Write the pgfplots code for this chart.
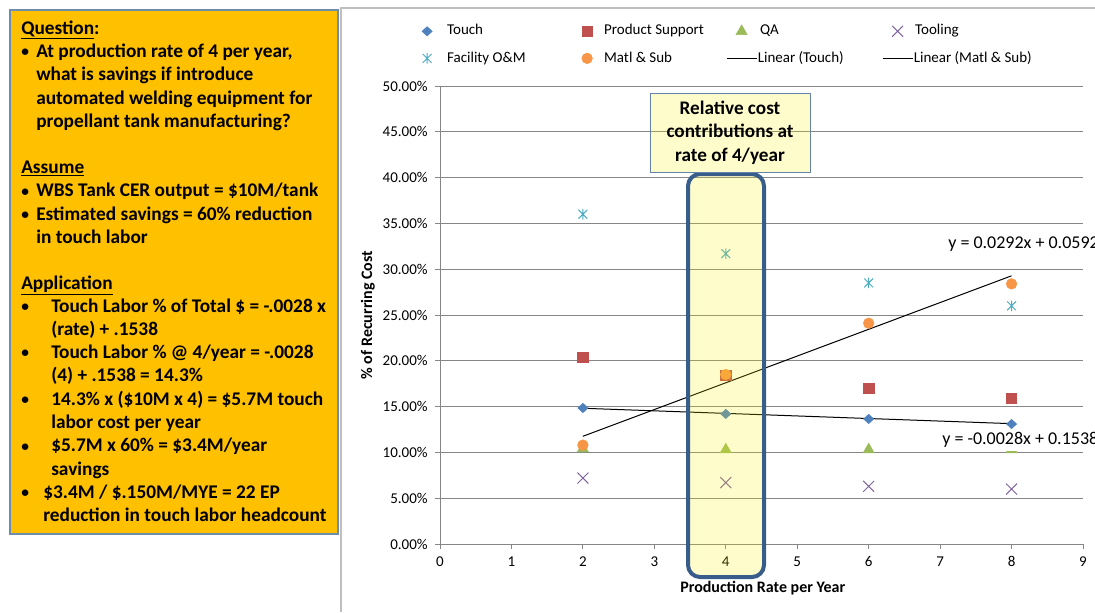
\documentclass[border=0pt]{standalone}
\usepackage{pgfplots}
\pgfplotsset{compat=1.18}
\usepackage{fontspec}
\setmainfont{Carlito}
\definecolor{boxorange}{RGB}{255,192,0}
\definecolor{boxborder}{RGB}{110,140,175}
\definecolor{gridgray}{RGB}{134,134,134}
\definecolor{framegray}{RGB}{191,191,191}
\definecolor{ctouch}{RGB}{79,129,189}
\definecolor{cps}{RGB}{192,80,77}
\definecolor{cqa}{RGB}{155,187,89}
\definecolor{ctool}{RGB}{128,100,162}
\definecolor{cfac}{RGB}{75,172,198}
\definecolor{cmatl}{RGB}{247,150,70}
\definecolor{hlborder}{RGB}{56,93,138}
\definecolor{annborder}{RGB}{100,130,170}
\newcommand{\bigfont}{\fontsize{14.5}{17.5}\selectfont\bfseries}
\newcommand{\chartfont}{\fontsize{11.25}{13.5}\selectfont}
\newcommand{\bul}{{\fontsize{11.5}{12}\selectfont\raisebox{0.5pt}{•}}}
\pgfdeclareplotmark{xstar}{%
  \pgfpathmoveto{\pgfqpoint{-\pgfplotmarksize}{-\pgfplotmarksize}}%
  \pgfpathlineto{\pgfqpoint{\pgfplotmarksize}{\pgfplotmarksize}}%
  \pgfpathmoveto{\pgfqpoint{-\pgfplotmarksize}{\pgfplotmarksize}}%
  \pgfpathlineto{\pgfqpoint{\pgfplotmarksize}{-\pgfplotmarksize}}%
  \pgfpathmoveto{\pgfqpoint{0pt}{-1.2\pgfplotmarksize}}%
  \pgfpathlineto{\pgfqpoint{0pt}{1.2\pgfplotmarksize}}%
  \pgfusepathqstroke}
\pgfplotsset{
  markleg/.style={legend image code/.code={\path[draw=none,fill=none] (0pt,0pt) -- (22.5pt,0pt); \draw[##1] plot coordinates {(11.25pt,0pt)};}},
  lineleg/.style={legend image code/.code={\draw[##1] (0pt,0pt) -- (22.5pt,0pt);}},
}
\begin{document}
\begin{tikzpicture}
\useasboundingbox (0,0) rectangle (821.25pt,-459pt);
\begin{scope}[x=0.75pt,y=-0.75pt]
\draw[boxborder, line width=1.1pt, fill=boxorange] (10,10) rectangle (338,534);
\draw[framegray, line width=1.5pt] (341,612) -- (341,8) -- (1095,8);
\begin{scope}[every node/.style={anchor=base west, inner sep=0pt, font=\bigfont}]
\node at (21,34) {\underline{Question}:};
\node at (21,57.5) {\bul}; \node at (36,57.5) {At production rate of 4 per year,};
\node at (36,80.8) {what is savings if introduce};
\node at (36,104) {automated welding equipment for};
\node at (36,127.3) {propellant tank manufacturing?};
\node at (21,173.5) {\underline{Assume}};
\node at (21,196.8) {\bul}; \node at (36,196.8) {WBS Tank CER output = \$10M/tank};
\node at (21,220) {\bul}; \node at (36,220) {Estimated savings = 60\% reduction};
\node at (36,243.3) {in touch labor};
\node at (21,289.3) {\underline{Application}};
\node at (21,312) {\bul}; \node at (51,312) {Touch Labor \% of Total \$ = -.0028 x};
\node at (51,335.3) {(rate) + .1538};
\node at (21,358.6) {\bul}; \node at (51,358.6) {Touch Labor \% @ 4/year = -.0028};
\node at (51,381.9) {(4) + .1538 = 14.3\%};
\node at (21,405.2) {\bul}; \node at (51,405.2) {14.3\% x (\$10M x 4) = \$5.7M touch};
\node at (51,428.5) {labor cost per year};
\node at (21,451.8) {\bul}; \node at (51,451.8) {\$5.7M x 60\% = \$3.4M/year};
\node at (51,475.1) {savings};
\node at (21,498.4) {\bul}; \node at (43,498.4) {\$3.4M / \$.150M/MYE = 22 EP};
\node at (43,521.7) {reduction in touch labor headcount};
\end{scope}
\end{scope}
\begin{axis}[
  at={(330pt,-408pt)}, anchor=south west,
  scale only axis, width=482.25pt, height=343.5pt,
  xmin=0, xmax=9, ymin=0, ymax=50,
  axis x line*=bottom, axis y line*=left,
  axis line style={gridgray, line width=0.75pt, -},
  xtick={0,1,...,9}, xticklabels={0,1,2,3,4,5,6,7,8,9},
  ytick={0,5,...,50},
  yticklabels={0.00\%,5.00\%,10.00\%,15.00\%,20.00\%,25.00\%,30.00\%,35.00\%,40.00\%,45.00\%,50.00\%},
  tick align=outside, major tick length=3.75pt,
  tick style={gridgray, line width=0.75pt},
  ymajorgrids, grid style={gridgray, line width=0.75pt},
  tick label style={font=\chartfont},
  xticklabel style={yshift=-2pt},
  yticklabel style={xshift=-2pt},
  xlabel={Production Rate per Year}, ylabel={\% of Recurring Cost},
  every axis x label/.style={at={(axis description cs:0.502,-0.096)}, anchor=center, font=\fontsize{12}{14}\selectfont\bfseries},
  every axis y label/.style={at={(axis description cs:-0.112,0.5)}, rotate=90, anchor=center, font=\fontsize{12}{14}\selectfont\bfseries},
  clip=false,
  legend columns=4,
  legend cell align=left,
  legend style={at={(axis description cs:-0.05,1.144)}, anchor=north west, draw=none, fill=none,
    font=\chartfont, row sep=7.8pt, column sep=0pt,
    nodes={inner xsep=0pt, inner ysep=1pt, text height=8pt, text depth=2.5pt}},
]
\addplot[only marks, mark=diamond*, mark size=3.5pt, mark options={xscale=1.45, fill=ctouch, draw=ctouch}, markleg]
  coordinates {(2,14.85) (4,14.2) (6,13.65) (8,13.1)};
\addlegendentry{\makebox[97.5pt][l]{\hspace{3.75pt}Touch}}
\addplot[only marks, mark=square*, mark size=3.9pt, mark options={fill=cps, draw=cps}, markleg]
  coordinates {(2,20.4) (4,18.45) (6,17.0) (8,15.9)};
\addlegendentry{\makebox[93pt][l]{\hspace{1.5pt}Product Support}}
\addplot[only marks, mark=triangle*, mark size=4.8pt, mark options={fill=cqa, draw=cqa}, markleg]
  coordinates {(2,10.4) (4,10.3) (6,10.3) (8,10.3)};
\addlegendentry{\makebox[93.75pt][l]{\hspace{2.25pt}QA}}
\addplot[only marks, mark=x, mark size=5.8pt, mark options={draw=ctool, line width=0.75pt}, markleg]
  coordinates {(2,7.2) (4,6.7) (6,6.3) (8,6.0)};
\addlegendentry{\makebox[95pt][l]{\hspace{1.5pt}Tooling}}
\addplot[only marks, mark=xstar, mark size=3.3pt, mark options={draw=cfac, line width=0.75pt}, markleg]
  coordinates {(2,36.0) (4,31.7) (6,28.5) (8,26.0)};
\addlegendentry{\makebox[97.5pt][l]{\hspace{3.75pt}Facility O\&M}}
\addplot[only marks, mark=*, mark size=4pt, mark options={fill=cmatl, draw=cmatl}, markleg]
  coordinates {(2,10.8) (4,18.5) (6,24.1) (8,28.4)};
\addlegendentry{\makebox[93pt][l]{\hspace{1.5pt}Matl \& Sub}}
\addplot[black, line width=0.75pt, no marks, lineleg]
  coordinates {(2,14.82) (8,13.14)};
\addlegendentry{\makebox[93.75pt][l]{\hspace{0.5pt}Linear (Touch)}}
\addplot[black, line width=0.75pt, no marks, lineleg]
  coordinates {(2,11.76) (8,29.28)};
\addlegendentry{\makebox[95pt][l]{\hspace{0.5pt}Linear (Matl \& Sub)}}
\end{axis}
\begin{scope}[x=0.75pt,y=-0.75pt]
\draw[hlborder, line width=3pt, rounded corners=9pt, fill=yellow, fill opacity=0.2, draw opacity=1] (688,174) rectangle (764,577);
\node[draw=annborder, line width=0.75pt, fill=yellow, fill opacity=0.2, text opacity=1, draw opacity=1,
  minimum width=120pt, minimum height=59.25pt, align=center, inner sep=0pt,
  font=\fontsize{14.4}{17.6}\selectfont\bfseries] at (730,132.5) {Relative cost\\contributions at\\rate of 4/year};
\node[anchor=west, fill=white, inner xsep=1.5pt, inner ysep=2.5pt, font=\fontsize{13.5}{16}\selectfont] at (946,244) {y = 0.0292x + 0.0592};
\node[anchor=west, fill=white, inner xsep=1.5pt, inner ysep=2.5pt, font=\fontsize{13.5}{16}\selectfont] at (940,440) {y = -0.0028x + 0.1538};
\end{scope}
\end{tikzpicture}
\end{document}
